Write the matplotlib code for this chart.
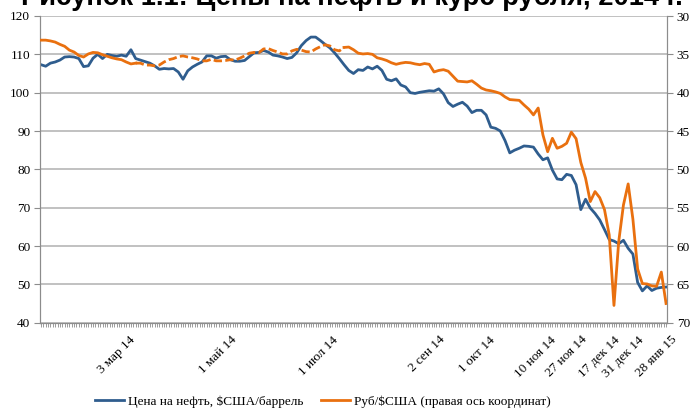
import numpy as np
import pandas as pd
import matplotlib
matplotlib.use("Agg")
import matplotlib.pyplot as plt
import matplotlib.transforms as mtransforms
from matplotlib.lines import Line2D

# ---- data (one value every 2nd trading day) ----
start_date = "2014-01-13"
end_date = "2015-01-28"
holidays = ["2014-11-03", "2014-11-04",
            "2015-01-01", "2015-01-02", "2015-01-05", "2015-01-06",
            "2015-01-07", "2015-01-08"]

oil_usd = [
    107.3, 106.9, 107.7, 108.0, 108.5, 109.3, 109.4, 109.3, 108.9, 106.8,
    107.0, 109.0, 110.0, 108.9, 110.0, 109.7, 109.5, 109.8, 109.5, 111.2,
    108.9, 108.5, 108.1, 107.7, 107.0, 106.1, 106.3, 106.2, 106.3, 105.4,
    103.5, 105.7, 106.7, 107.4, 108.0, 109.6, 109.6, 109.0, 109.4, 109.5,
    108.6, 108.2, 108.2, 108.4, 109.4, 110.4, 110.5, 111.0, 110.6, 109.8,
    109.6, 109.3, 108.9, 109.2, 110.4, 112.3, 113.6, 114.5, 114.5, 113.6,
    112.6, 111.7, 110.4, 108.9, 107.3, 105.8, 105.0, 106.0, 105.8, 106.7,
    106.2, 106.9, 105.8, 103.5, 103.1, 103.6, 102.0, 101.5, 100.0, 99.8,
    100.1, 100.3, 100.5, 100.4, 101.0, 99.7, 97.4, 96.4, 97.0, 97.5,
    96.5, 94.8, 95.4, 95.4, 94.2, 91.0, 90.7, 90.0, 87.5, 84.3,
    85.0, 85.5, 86.1, 86.0, 85.8, 84.0, 82.5, 83.0, 79.8, 77.5,
    77.3, 78.7, 78.4, 76.0, 69.5, 72.2, 69.9, 68.5, 66.8, 64.3,
    61.7, 61.3, 60.6, 61.5, 59.4, 57.9, 50.5, 48.3, 49.6, 48.4,
    49.0, 49.2, 49.3,
]

rub_usd = [
    33.15, 33.15, 33.25, 33.4, 33.7, 33.95, 34.45, 34.7, 35.15, 35.35,
    34.95, 34.75, 34.8, 35.05, 35.25, 35.45, 35.6, 35.7, 36.0, 36.25,
    36.15, 36.15, 36.4, 36.4, 36.5, 36.4, 36.0, 35.7, 35.55, 35.3,
    35.2, 35.35, 35.45, 35.6, 35.85, 35.85, 35.65, 35.85, 35.85, 35.8,
    35.7, 35.75, 35.5, 35.2, 34.85, 34.75, 34.8, 34.3, 34.25, 34.5,
    34.7, 34.95, 34.95, 34.55, 34.35, 34.45, 34.65, 34.7, 34.3, 34.0,
    33.75, 33.9, 34.4, 34.55, 34.1, 34.05, 34.4, 34.85, 34.95, 34.9,
    35.0, 35.45, 35.6, 35.8, 36.1, 36.3, 36.15, 36.05, 36.1, 36.25,
    36.35, 36.2, 36.3, 37.3, 37.1, 37.0, 37.2, 37.85, 38.5, 38.55,
    38.6, 38.45, 38.9, 39.4, 39.65, 39.75, 39.9, 40.1, 40.55, 40.9,
    40.95, 41.0, 41.6, 42.15, 42.9, 42.0, 45.5, 47.7, 45.95, 47.25,
    47.0, 46.6, 45.15, 46.0, 49.1, 51.15, 54.2, 52.9, 53.7, 55.25,
    58.55, 67.75, 59.45, 54.65, 51.9, 56.5, 63.0, 64.9, 64.95, 65.2,
    65.25, 63.4, 67.5,
]

tick_dates = ["2014-03-03", "2014-05-01", "2014-07-01", "2014-09-02",
              "2014-10-01", "2014-11-10", "2014-11-27", "2014-12-17",
              "2014-12-31", "2015-01-28"]
tick_labels = ["3 мар 14", "1 май 14", "1 июл 14", "2 сен 14", "1 окт 14",
               "10 ноя 14", "27 ноя 14", "17 дек 14", "31 дек 14",
               "28 янв 15"]

oil_label = "Цена на нефть, $США/баррель"
rub_label = "Руб/$США (правая ось координат)"
title = "Рисунок 1.1: Цены на нефть и курс рубля, 2014 г."

# ---- trading-day axis ----
cal = pd.bdate_range(start_date, end_date, freq="C", holidays=holidays)
days = np.arange(len(cal))
x = days[::2]
ticks = [cal.get_loc(pd.Timestamp(d)) for d in tick_dates]

blue = "#2f5d8e"
orange = "#e9700f"
grid_col = "#b0b0b0"
serif = "Liberation Serif"

fig = plt.figure(figsize=(6.94, 4.08), dpi=100)
ax = fig.add_axes([40 / 694, 85.3 / 408, 627 / 694, 306.7 / 408])

ax.plot(x, oil_usd, color=blue, lw=2.0, zorder=3)
ax.set_ylim(40, 120)
ax.set_yticks(np.arange(40, 121, 10))
ax.set_xlim(-0.4, days[-1] + 0.4)
ax.grid(axis="y", color=grid_col, lw=1.1)
ax.set_axisbelow(True)

ax2 = ax.twinx()
# dashed look in the middle stretch as in the source (gaps in the series)
rub = np.array(rub_usd)
ax2.plot(x[:21], rub[:21], color=orange, lw=2.0, zorder=4)
ax2.plot(x[20:65], rub[20:65], color=orange, lw=2.0, zorder=4,
         dashes=(3.0, 1.2), dash_capstyle="butt")
ax2.plot(x[64:], rub[64:], color=orange, lw=2.0, zorder=4)
ax2.set_ylim(70, 30)
ax2.set_yticks(np.arange(30, 71, 5))

for a in (ax, ax2):
    for s in a.spines.values():
        s.set_color("#8c8c8c")
    a.spines["top"].set_visible(False)
    a.tick_params(axis="y", length=4, width=0.8, color="#8c8c8c",
                  labelsize=9.5, pad=3)
    for lab in a.get_yticklabels():
        lab.set_family(serif)

ax.set_xticks(ticks)
ax.set_xticklabels(tick_labels, rotation=45, ha="right",
                   rotation_mode="anchor", family=serif, fontsize=9.5)
ax.set_xticks(days, minor=True)
ax.tick_params(axis="x", which="both", length=3, width=0.6,
               color="#8c8c8c", pad=5)
shift = mtransforms.ScaledTranslation(5 / 100, 0, fig.dpi_scale_trans)
for lab in ax.get_xticklabels():
    lab.set_transform(lab.get_transform() + shift)

# title is clipped by the top edge in the source image
fig.text(0.507, 1 - 5 / 408, title, ha="center", va="baseline",
         fontsize=19.6, fontweight="bold", family="Liberation Sans")

handles = [Line2D([], [], color=blue, lw=2.0),
           Line2D([], [], color=orange, lw=2.0)]
fig.legend(handles, [oil_label, rub_label], loc="center",
           bbox_to_anchor=(323 / 694, 1 - 401.7 / 408), ncol=2,
           frameon=False, prop={"family": serif, "size": 9.5},
           handlelength=2.2, handletextpad=0.3, columnspacing=1.3)

fig.savefig("out.png", dpi=100)
